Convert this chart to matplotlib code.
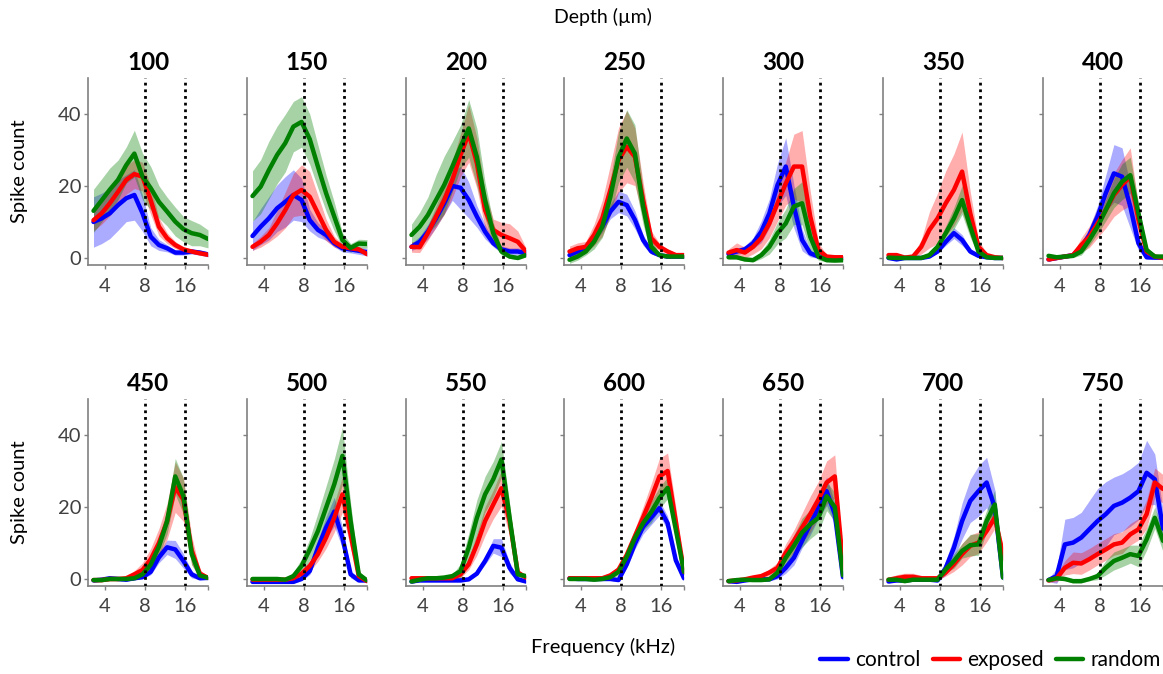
import numpy as np
import matplotlib.pyplot as plt

plt.rcParams['font.family'] = ['Lato', 'DejaVu Sans']

# frequency grid (kHz) shared by every panel
freqs = [3.3, 3.8, 4.38, 5.05, 5.82, 6.7, 7.72, 8.9, 10.25, 11.81, 13.61, 15.68, 18.07, 20.82, 24.0]
depths = [100, 150, 200, 250, 300, 350, 400, 450, 500, 550, 600, 650, 700, 750]

# mean spike counts, one row per depth
control_mean = [
    [10, 11, 12.4, 14.7, 16.6, 17.5, 12.4, 5.9, 3.6, 2.7, 1.5, 1.5, 1.8, 1.5, 1.0],
    [6.1, 8.7, 11, 13.8, 15.6, 17.5, 16.1, 10.5, 7.8, 6.4, 4.1, 2.7, 2.4, 2.0, 1.6],
    [3.1, 4.5, 7.3, 11, 15.2, 20, 19.5, 16.1, 11.5, 7.3, 4.1, 2.4, 1.8, 1.8, 1.3],
    [0.8, 1.8, 3.1, 5.5, 8.7, 12.9, 15.6, 14.7, 10.6, 5, 1.8, 0.8, 0.4, 0.4, 0.4],
    [1.1, 1.8, 2.4, 4.1, 7.3, 12.4, 20.3, 25.4, 14.3, 5, 1.3, 0.4, 0.2, 0, 0],
    [0, -0.4, 0, 0, 0, 0.4, 1.8, 4.5, 6.9, 5, 1.8, 0.6, 0.2, 0, 0],
    [-0.4, 0, 0.4, 0.8, 3.1, 6.4, 11.5, 18, 23.5, 22.6, 14.3, 4.1, 0.2, 0.1, 0.1],
    [-0.4, -0.2, 0.2, 0, -0.2, 0.2, 0.5, 2, 6, 8.8, 8.2, 5, 1.3, 0.2, 0.3],
    [-0.8, -0.8, -0.8, -0.8, -0.8, -0.8, 0, 2.2, 8.7, 14.3, 18.7, 11.5, 1.3, -0.4, -0.4],
    [-0.7, -0.4, -0.4, -0.4, -0.4, -0.4, -0.4, -0.1, 1.5, 5, 9.2, 8.7, 3.1, -0.1, -0.7],
    [0.2, 0, 0, 0, 0, 0, -0.3, 4.1, 9.8, 14.5, 17.1, 19.7, 15.5, 5.2, 0.2],
    [-0.6, -0.8, -0.4, -0.1, -0.1, -0.1, 0.8, 3.1, 5.9, 10.6, 15.2, 19.8, 24.4, 18, 0.5],
    [-0.7, -0.4, -0.4, -0.2, -0.2, -0.2, -0.4, 3.1, 8.7, 16.1, 21.7, 24.4, 26.8, 19.8, 0.4],
    [-0.3, 0.8, 9.6, 10.1, 11.5, 13.8, 16.1, 18, 20.3, 21.2, 22.6, 24.4, 29.5, 27.7, 14],
]
control_sem = [
    [7, 7, 7, 7, 6.5, 7, 5, 2.5, 1.5, 1, 0.7, 0.7, 0.7, 0.7, 0.7],
    [4, 5, 6, 6.5, 7, 7, 6, 3, 2, 1.5, 1, 1, 1, 1, 1],
    [1, 1.5, 2, 2.5, 3, 4, 6, 5, 3, 2, 1, 1, 1, 1, 1],
    [0.5, 0.5, 0.7, 1, 1.5, 2, 3, 3, 2.5, 1.5, 0.7, 0.5, 0.5, 0.5, 0.5],
    [0.7, 0.8, 1, 1.5, 3, 4, 6, 8, 6, 3, 1, 0.5, 0.5, 0.5, 0.5],
    [0.3, 0.3, 0.3, 0.3, 0.3, 0.3, 0.5, 1, 1.5, 1.5, 0.7, 0.4, 0.3, 0.3, 0.3],
    [0.5, 0.5, 0.5, 0.5, 1, 2, 3, 5, 8, 8, 6, 2, 0.5, 0.5, 0.5],
    [0.4, 0.4, 0.4, 0.4, 0.4, 0.4, 0.4, 0.8, 1.5, 2, 2.5, 2, 1, 0.4, 0.4],
    [0.4, 0.4, 0.4, 0.4, 0.4, 0.4, 0.4, 1, 2, 3, 4, 3, 1, 0.4, 0.4],
    [0.4, 0.4, 0.4, 0.4, 0.4, 0.4, 0.4, 0.4, 0.4, 1, 2, 2.5, 1.5, 0.4, 0.4],
    [0.4, 0.4, 0.4, 0.4, 0.4, 0.4, 0.4, 1, 1.5, 2, 2, 2, 2, 1, 0.4],
    [0.4, 0.4, 0.4, 0.4, 0.4, 0.4, 0.8, 1.5, 2, 2, 3, 3, 4, 3, 1],
    [0.4, 0.4, 0.4, 0.4, 0.4, 0.4, 0.4, 2, 3, 5, 6, 7, 7, 5, 1],
    [0.5, 2, 7, 7, 7, 8, 9, 9, 8, 8, 8, 8, 9, 7, 5],
]

exposed_mean = [
    [10.5, 12.4, 15.2, 18.4, 21.7, 23.3, 22.6, 16, 8.7, 5.5, 3.6, 2.4, 1.8, 1.3, 0.9],
    [3.1, 4.5, 6.4, 9.6, 13.3, 17.5, 18.9, 17, 12.4, 7.8, 4.5, 3.1, 2.7, 2.4, 1.1],
    [3.1, 3, 6.9, 11.5, 16.1, 21.7, 28.6, 34.6, 26.3, 13.3, 7.8, 6.4, 5.5, 4.5, 1.8],
    [1.8, 2.7, 3.1, 6.4, 11, 18.9, 27.2, 30.9, 28.1, 16.1, 5.5, 3.1, 1.8, 0.8, 0.8],
    [1.5, 2.2, 1.5, 3.1, 5.5, 9.6, 15.2, 20.7, 25.4, 25.4, 11.5, 2.2, 0.4, 0.2, 0.2],
    [0.8, 0.8, 0.1, 0.4, 3.1, 7.8, 11, 15.2, 18.9, 24, 12.4, 3.1, 0.8, 0.2, 0],
    [-0.4, 0, 0.4, 0.8, 3.6, 5.9, 9.6, 13.3, 17.5, 20.3, 22.6, 10.6, 1.8, 0.4, 0],
    [-0.3, -0.3, 0, 0, 0.2, 1.3, 2.5, 5.5, 10, 16, 25.5, 22, 8, 1.5, 0.3],
    [-0.2, -0.2, -0.2, -0.2, -0.2, 0.2, 1.5, 3.6, 6.9, 11.5, 17, 23.5, 12.4, 0.8, -0.6],
    [0.2, 0.2, 0.2, 0.2, 0.2, 0.2, 1.3, 4.1, 9.6, 16.1, 20.7, 25.2, 16.1, 1.8, 0.4],
    [0.2, 0.2, 0.2, 0.2, 0.2, 1, 2.6, 6.7, 11.9, 17.1, 22.5, 28.5, 30, 16, 2],
    [-0.6, -0.4, -0.1, 0.4, 0.8, 1.8, 3.1, 7.3, 10.6, 14.3, 18, 22.1, 26.8, 28.5, 4],
    [-0.2, 0.2, 0.6, 0.6, 0.2, 0.2, 0.2, 1.8, 4.1, 6.9, 9.2, 10.1, 13.3, 17, 6.9],
    [-0.4, 0.2, 3.1, 4.5, 4.3, 5.5, 6.9, 8.2, 9.6, 10.1, 12.4, 13.8, 18, 26.8, 25],
]
exposed_sem = [
    [3, 3, 3.5, 3.5, 4, 4, 4, 4, 2.5, 1.5, 1, 0.6, 0.5, 0.5, 0.5],
    [1, 1.5, 2, 3.5, 5, 6, 7, 7, 5, 3, 1.5, 0.8, 0.7, 0.7, 0.7],
    [1.5, 1.5, 2, 3, 4, 5, 6, 8, 7, 5, 3, 3.5, 4, 3, 1],
    [1.5, 1.5, 1.5, 3, 5, 7, 9, 10, 8, 5, 2, 1, 0.7, 0.7, 0.7],
    [1, 2, 1.5, 2, 3, 4, 5, 6, 9, 10, 7, 2, 0.5, 0.5, 0.5],
    [0.5, 0.5, 0.5, 0.5, 2, 5, 7, 9, 10, 11, 6, 2, 0.5, 0.5, 0.5],
    [0.5, 0.5, 0.5, 0.5, 2, 3, 4, 5, 6, 7, 8, 4, 1, 0.5, 0.5],
    [0.5, 0.5, 0.5, 0.5, 0.5, 1, 2, 3, 4, 5, 7, 6, 4, 1, 0.5],
    [0.5, 0.5, 0.5, 0.5, 0.5, 0.5, 1, 1.5, 2, 3, 4, 5, 4, 1, 0.5],
    [0.5, 0.5, 0.5, 0.5, 0.5, 0.5, 1, 1.5, 3, 4, 4, 5, 4, 1, 0.5],
    [0.5, 0.5, 0.5, 0.5, 0.5, 0.8, 1, 1.5, 2, 3, 4, 5, 5, 4, 1],
    [0.5, 0.5, 0.5, 0.5, 0.5, 1, 1.5, 2.5, 3, 4, 5, 5, 6, 6, 2],
    [0.5, 1, 1, 1, 0.8, 0.5, 0.5, 1, 2, 3, 3, 3, 3, 3, 2],
    [0.5, 1, 2, 3, 3, 3, 3, 3, 3, 3, 3, 3, 4, 4, 4],
]

random_mean = [
    [13.1, 16, 19, 21.7, 25.8, 29, 22.6, 19.4, 15.6, 12.9, 10.1, 8, 6.9, 6.4, 5.3],
    [17.2, 19.8, 24.4, 28.6, 31.9, 36.5, 37.8, 33, 25.4, 18, 11.5, 5, 2.8, 4.0, 3.9],
    [6.4, 8.7, 11.9, 16.1, 20.3, 25.4, 30.9, 36, 28, 16, 6.9, 1.8, 0.4, 0, 0.8],
    [-0.5, 0.4, 1.8, 4.5, 8.7, 17, 28, 33.2, 29, 14.3, 3.1, 0.8, 0.4, 0.4, 0.4],
    [0.2, 0.2, -0.4, -0.6, 0.8, 3.1, 6.9, 9.6, 14.3, 15.2, 5.9, 0.4, -0.6, -0.7, -0.6],
    [0.1, 0, 0, 0, 0, 0.8, 3.1, 6.9, 11, 16.1, 8.7, 1.8, 0.2, 0, 0],
    [0.6, 0.2, 0.4, 0.6, 1.8, 5, 8.7, 13.3, 18, 21.2, 23, 12.4, 2.2, 0.4, 0.4],
    [-0.3, -0.3, 0, 0, 0, 0.2, 1.3, 4, 9, 16, 28.5, 23, 7, 1, 0.3],
    [0, 0, 0, 0, -0.2, 0.8, 3.6, 8.2, 13.3, 19.8, 26.3, 34.2, 16.1, 1.3, -0.4],
    [-0.7, -0.2, 0.2, 0.2, 0.4, 0.8, 2.2, 8.7, 17, 23.5, 27.7, 33.2, 17, 1.3, 0.8],
    [0, 0, 0, -0.2, 0, 0.5, 2, 6.2, 11.4, 15.5, 18.6, 22.5, 25.3, 13.7, 2],
    [-0.6, -0.3, -0.2, -0.3, -0.3, -0.1, 1.8, 5.9, 9.2, 12.9, 15.2, 17, 23, 20, 1],
    [-0.2, -0.2, -0.6, -0.2, -0.2, -0.2, -0.2, 2.7, 5, 7.8, 9.4, 9.6, 16.1, 20.7, 0.4],
    [-0.3, 0.2, 0, -0.6, -0.6, 0, 0.8, 3.1, 5, 5.9, 6.9, 6.4, 11, 17, 10.6],
]
random_sem = [
    [6, 6, 6, 5.5, 5, 6.5, 6.5, 6, 4.5, 4, 4, 3.5, 3.5, 3, 2.5],
    [7, 7.5, 8, 8, 8, 7, 7, 7, 6, 5, 4, 2, 1.2, 1.2, 1.2],
    [3, 4, 5, 7, 8, 7, 6, 8, 8, 5, 3, 1, 0.5, 0.5, 0.5],
    [1, 1, 1, 2, 3, 5, 7, 8, 8, 5, 2, 0.5, 0.5, 0.5, 0.5],
    [0.5, 0.5, 0.5, 0.5, 1, 2, 3, 4, 5, 6, 4, 1, 0.5, 0.5, 0.5],
    [0.3, 0.3, 0.3, 0.3, 0.3, 0.5, 1, 2, 3, 4, 3, 1, 0.3, 0.3, 0.3],
    [0.5, 0.5, 0.5, 0.5, 1, 1.5, 2, 3, 4, 5, 5, 3, 1, 0.5, 0.5],
    [0.5, 0.5, 0.5, 0.5, 0.5, 0.5, 1, 1.5, 2.5, 3.5, 5, 5, 3, 1, 0.5],
    [0.5, 0.5, 0.5, 0.5, 0.5, 1, 2, 3, 5, 6, 7, 8, 5, 1, 0.5],
    [0.5, 0.5, 0.5, 0.5, 0.5, 0.5, 2, 4, 5, 5, 5, 5, 4, 1, 0.5],
    [0.4, 0.4, 0.4, 0.4, 0.4, 0.4, 1, 1.5, 2, 2, 3, 3, 3, 2, 1],
    [0.4, 0.4, 0.4, 0.4, 0.4, 0.4, 1, 2, 3, 4, 4, 4, 4, 4, 1],
    [0.4, 0.4, 0.4, 0.4, 0.4, 0.4, 0.4, 1, 2, 2, 3, 3, 3, 4, 1],
    [0.5, 0.5, 0.5, 0.5, 0.5, 0.5, 1, 2, 2.5, 2.5, 2.5, 3, 3, 3, 3],
]

groups = [
    ('control', control_mean, control_sem, '#0000ff', 0.33),
    ('exposed', exposed_mean, exposed_sem, '#ff0000', 0.32),
    ('random', random_mean, random_sem, '#008000', 0.35),
]

W, H = 1163, 674
fig = plt.figure(figsize=(W / 100, H / 100), dpi=100)
lefts = [88, 247, 406, 564, 723, 883, 1043]
tops = [78, 399]
x = np.array(freqs)

for i, depth in enumerate(depths):
    row, col = divmod(i, 7)
    ax = fig.add_axes([lefts[col] / W, 1 - (tops[row] + 187) / H, 120 / W, 187 / H])

    for name, means, sems, color, alpha in groups:
        m = np.array(means[i])
        s = np.array(sems[i])
        ax.fill_between(x, m - s, m + s, color=color, alpha=alpha, lw=0)
    for name, means, sems, color, alpha in groups:
        ax.plot(x, means[i], color=color, lw=3.2, label=name, solid_capstyle='round')

    for f in (8, 16):
        ax.axvline(f, color='black', ls=(0, (1, 1.4)), lw=2, zorder=5)

    ax.set_xscale('log')
    ax.set_xlim(3.0, 24.0)
    ax.set_ylim(-1.95, 50)
    ax.set_xticks([4, 8, 16, 24])
    ax.set_xticklabels(['4', '8', '16', ''])
    ax.minorticks_off()
    ax.set_yticks([0, 20, 40])
    if col == 0:
        ax.set_yticklabels(['0', '20', '40'])
        ax.set_ylabel('Spike count', fontsize=14.5, color='black')
        ax.yaxis.set_label_coords(-0.5, 0.5)
    else:
        ax.set_yticklabels([])
    ax.tick_params(axis='both', length=3, width=1, color='#808080',
                   labelsize=14.5, labelcolor='#404040', pad=2)
    ax.tick_params(axis='x', pad=6)
    for side in ('top', 'right'):
        ax.spines[side].set_visible(False)
    for side in ('left', 'bottom'):
        ax.spines[side].set_color('#808080')
        ax.spines[side].set_linewidth(1.2)
    ax.set_title(str(depth), fontsize=17.5, fontweight='bold', pad=6)

fig.text(603 / W, 1 - 17 / H, 'Depth (\u00b5m)', ha='center', va='center', fontsize=14)
fig.text(603 / W, 1 - 647 / H, 'Frequency (kHz)', ha='center', va='center', fontsize=14.5)

handles, labels = ax.get_legend_handles_labels()
fig.legend(handles, labels, loc='center right', bbox_to_anchor=(1.0, 1 - 660 / H),
           ncol=3, frameon=False, fontsize=15, handlelength=1.3, handletextpad=0.35,
           columnspacing=0.6, borderaxespad=0.0, borderpad=0.1)

fig.savefig('out.png', dpi=100)
